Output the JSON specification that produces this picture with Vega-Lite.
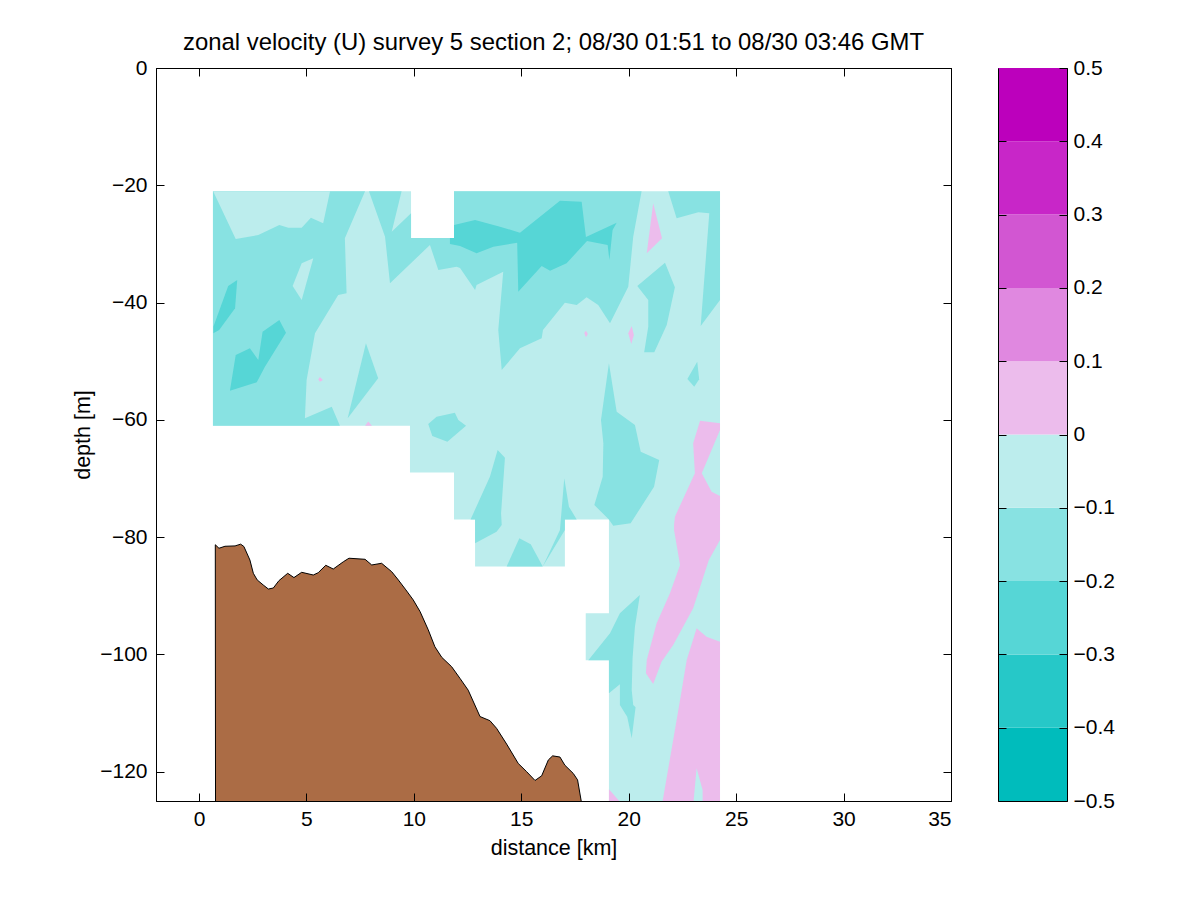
{
  "$schema": "https://vega.github.io/schema/vega-lite/v6.json",
  "padding": {"left": 72, "top": 30, "right": 60, "bottom": 40},
  "background": "white",
  "config": {
    "font": "Liberation Sans",
    "view": {"stroke": "black", "strokeWidth": 1},
    "axis": {"grid": false, "domainColor": "black", "tickColor": "black", "labelColor": "black", "titleColor": "black", "labelFontSize": 21, "titleFontSize": 21.5, "titleFontWeight": "normal", "tickSize": -8, "labelPadding": 15}
  },
  "datasets": {
    "polys": [
      {"poly":"base","band":"-0.1..0","i":0,"km":0.65,"depth":-21},{"poly":"base","band":"-0.1..0","i":1,"km":9.87,"depth":-21},{"poly":"base","band":"-0.1..0","i":2,"km":9.87,"depth":-29},{"poly":"base","band":"-0.1..0","i":3,"km":11.87,"depth":-29},{"poly":"base","band":"-0.1..0","i":4,"km":11.87,"depth":-21},{"poly":"base","band":"-0.1..0","i":5,"km":24.25,"depth":-21},{"poly":"base","band":"-0.1..0","i":6,"km":24.25,"depth":-125},{"poly":"base","band":"-0.1..0","i":7,"km":19.08,"depth":-125},{"poly":"base","band":"-0.1..0","i":8,"km":19.08,"depth":-101},{"poly":"base","band":"-0.1..0","i":9,"km":18.0,"depth":-101},{"poly":"base","band":"-0.1..0","i":10,"km":18.0,"depth":-93},{"poly":"base","band":"-0.1..0","i":11,"km":19.08,"depth":-93},{"poly":"base","band":"-0.1..0","i":12,"km":19.08,"depth":-77},{"poly":"base","band":"-0.1..0","i":13,"km":17.03,"depth":-77},{"poly":"base","band":"-0.1..0","i":14,"km":17.03,"depth":-85},{"poly":"base","band":"-0.1..0","i":15,"km":12.85,"depth":-85},{"poly":"base","band":"-0.1..0","i":16,"km":12.85,"depth":-77},{"poly":"base","band":"-0.1..0","i":17,"km":11.87,"depth":-77},{"poly":"base","band":"-0.1..0","i":18,"km":11.87,"depth":-69},{"poly":"base","band":"-0.1..0","i":19,"km":9.82,"depth":-69},{"poly":"base","band":"-0.1..0","i":20,"km":9.82,"depth":-61},{"poly":"base","band":"-0.1..0","i":21,"km":0.65,"depth":-61},

      {"poly":"A","band":"-0.2..-0.1","i":0,"km":0.65,"depth":-21},{"poly":"A","band":"-0.2..-0.1","i":1,"km":7.73,"depth":-21},{"poly":"A","band":"-0.2..-0.1","i":2,"km":6.79,"depth":-29.04},{"poly":"A","band":"-0.2..-0.1","i":3,"km":6.87,"depth":-38.42},{"poly":"A","band":"-0.2..-0.1","i":4,"km":6.48,"depth":-38.71},{"poly":"A","band":"-0.2..-0.1","i":5,"km":5.40,"depth":-45.24},{"poly":"A","band":"-0.2..-0.1","i":6,"km":5.01,"depth":-53.2},{"poly":"A","band":"-0.2..-0.1","i":7,"km":4.93,"depth":-59.74},{"poly":"A","band":"-0.2..-0.1","i":8,"km":6.18,"depth":-57.76},{"poly":"A","band":"-0.2..-0.1","i":9,"km":6.56,"depth":-61},{"poly":"A","band":"-0.2..-0.1","i":10,"km":0.65,"depth":-61},

      {"poly":"B","band":"-0.2..-0.1","i":0,"km":7.91,"depth":-21},{"poly":"B","band":"-0.2..-0.1","i":1,"km":9.43,"depth":-21},{"poly":"B","band":"-0.2..-0.1","i":2,"km":8.97,"depth":-27.92},{"poly":"B","band":"-0.2..-0.1","i":3,"km":9.87,"depth":-24.78},{"poly":"B","band":"-0.2..-0.1","i":4,"km":9.87,"depth":-29},{"poly":"B","band":"-0.2..-0.1","i":5,"km":11.87,"depth":-29},{"poly":"B","band":"-0.2..-0.1","i":6,"km":11.87,"depth":-21},{"poly":"B","band":"-0.2..-0.1","i":7,"km":20.6,"depth":-21},{"poly":"B","band":"-0.2..-0.1","i":8,"km":20.21,"depth":-28.77},{"poly":"B","band":"-0.2..-0.1","i":9,"km":19.98,"depth":-37.3},{"poly":"B","band":"-0.2..-0.1","i":10,"km":19.13,"depth":-43.54},{"poly":"B","band":"-0.2..-0.1","i":11,"km":18.58,"depth":-40.42},{"poly":"B","band":"-0.2..-0.1","i":12,"km":18.04,"depth":-39.1},{"poly":"B","band":"-0.2..-0.1","i":13,"km":17.58,"depth":-40.42},{"poly":"B","band":"-0.2..-0.1","i":14,"km":17.03,"depth":-40.02},{"poly":"B","band":"-0.2..-0.1","i":15,"km":16.01,"depth":-44.68},{"poly":"B","band":"-0.2..-0.1","i":16,"km":15.95,"depth":-46.09},{"poly":"B","band":"-0.2..-0.1","i":17,"km":14.94,"depth":-47.8},{"poly":"B","band":"-0.2..-0.1","i":18,"km":14.09,"depth":-51.5},{"poly":"B","band":"-0.2..-0.1","i":19,"km":13.93,"depth":-44.68},{"poly":"B","band":"-0.2..-0.1","i":20,"km":14.16,"depth":-34.74},{"poly":"B","band":"-0.2..-0.1","i":21,"km":12.92,"depth":-37.0},{"poly":"B","band":"-0.2..-0.1","i":22,"km":12.85,"depth":-37.86},{"poly":"B","band":"-0.2..-0.1","i":23,"km":12.15,"depth":-34.1},{"poly":"B","band":"-0.2..-0.1","i":24,"km":11.99,"depth":-33.88},{"poly":"B","band":"-0.2..-0.1","i":25,"km":11.14,"depth":-34.45},{"poly":"B","band":"-0.2..-0.1","i":26,"km":10.75,"depth":-30.18},{"poly":"B","band":"-0.2..-0.1","i":27,"km":8.89,"depth":-36.71},{"poly":"B","band":"-0.2..-0.1","i":28,"km":8.66,"depth":-28.77},

      {"poly":"C","band":"-0.2..-0.1","i":0,"km":21.84,"depth":-21},{"poly":"C","band":"-0.2..-0.1","i":1,"km":24.25,"depth":-21},{"poly":"C","band":"-0.2..-0.1","i":2,"km":24.25,"depth":-39.56},{"poly":"C","band":"-0.2..-0.1","i":3,"km":23.35,"depth":-44.0},{"poly":"C","band":"-0.2..-0.1","i":4,"km":23.75,"depth":-24.78},{"poly":"C","band":"-0.2..-0.1","i":5,"km":23.24,"depth":-24.61},{"poly":"C","band":"-0.2..-0.1","i":6,"km":22.23,"depth":-25.63},

      {"poly":"L1","band":"-0.1..0","i":0,"km":0.66,"depth":-21},{"poly":"L1","band":"-0.1..0","i":1,"km":6.10,"depth":-21},{"poly":"L1","band":"-0.1..0","i":2,"km":5.78,"depth":-26.48},{"poly":"L1","band":"-0.1..0","i":3,"km":5.21,"depth":-25.53},{"poly":"L1","band":"-0.1..0","i":4,"km":4.78,"depth":-27.23},{"poly":"L1","band":"-0.1..0","i":5,"km":4.16,"depth":-27.23},{"poly":"L1","band":"-0.1..0","i":6,"km":3.74,"depth":-26.77},{"poly":"L1","band":"-0.1..0","i":7,"km":2.76,"depth":-28.48},{"poly":"L1","band":"-0.1..0","i":8,"km":1.71,"depth":-29.16},

      {"poly":"L2","band":"-0.1..0","i":0,"km":5.32,"depth":-32.45},{"poly":"L2","band":"-0.1..0","i":1,"km":4.78,"depth":-33.3},{"poly":"L2","band":"-0.1..0","i":2,"km":4.36,"depth":-37.18},{"poly":"L2","band":"-0.1..0","i":3,"km":4.78,"depth":-39.56},

      {"poly":"D1","band":"-0.3..-0.2","i":0,"km":1.78,"depth":-36.15},{"poly":"D1","band":"-0.3..-0.2","i":1,"km":1.36,"depth":-37.18},{"poly":"D1","band":"-0.3..-0.2","i":2,"km":0.67,"depth":-44.12},{"poly":"D1","band":"-0.3..-0.2","i":3,"km":0.67,"depth":-45.24},{"poly":"D1","band":"-0.3..-0.2","i":4,"km":0.94,"depth":-44.68},{"poly":"D1","band":"-0.3..-0.2","i":5,"km":1.68,"depth":-40.98},

      {"poly":"D2","band":"-0.3..-0.2","i":0,"km":3.74,"depth":-42.97},{"poly":"D2","band":"-0.3..-0.2","i":1,"km":2.96,"depth":-44.97},{"poly":"D2","band":"-0.3..-0.2","i":2,"km":2.76,"depth":-49.79},{"poly":"D2","band":"-0.3..-0.2","i":3,"km":2.37,"depth":-47.8},{"poly":"D2","band":"-0.3..-0.2","i":4,"km":1.71,"depth":-48.94},{"poly":"D2","band":"-0.3..-0.2","i":5,"km":1.44,"depth":-55.03},{"poly":"D2","band":"-0.3..-0.2","i":6,"km":2.69,"depth":-53.6},{"poly":"D2","band":"-0.3..-0.2","i":7,"km":3.07,"depth":-50.94},{"poly":"D2","band":"-0.3..-0.2","i":8,"km":4.05,"depth":-45.14},

      {"poly":"T2","band":"-0.2..-0.1","i":0,"km":7.77,"depth":-46.95},{"poly":"T2","band":"-0.2..-0.1","i":1,"km":8.34,"depth":-52.92},{"poly":"T2","band":"-0.2..-0.1","i":2,"km":6.92,"depth":-59.74},

      {"poly":"T3","band":"-0.2..-0.1","i":0,"km":11.91,"depth":-58.78},{"poly":"T3","band":"-0.2..-0.1","i":1,"km":12.07,"depth":-60.03},{"poly":"T3","band":"-0.2..-0.1","i":2,"km":12.43,"depth":-61.0},{"poly":"T3","band":"-0.2..-0.1","i":3,"km":11.56,"depth":-63.73},{"poly":"T3","band":"-0.2..-0.1","i":4,"km":10.86,"depth":-62.76},{"poly":"T3","band":"-0.2..-0.1","i":5,"km":10.67,"depth":-60.71},{"poly":"T3","band":"-0.2..-0.1","i":6,"km":11.06,"depth":-59.46},

      {"poly":"Dk","band":"-0.3..-0.2","i":0,"km":11.87,"depth":-26.77},{"poly":"Dk","band":"-0.3..-0.2","i":1,"km":12.85,"depth":-25.92},{"poly":"Dk","band":"-0.3..-0.2","i":2,"km":14.01,"depth":-27.06},{"poly":"Dk","band":"-0.3..-0.2","i":3,"km":14.94,"depth":-28.09},{"poly":"Dk","band":"-0.3..-0.2","i":4,"km":16.80,"depth":-22.63},{"poly":"Dk","band":"-0.3..-0.2","i":5,"km":17.81,"depth":-22.8},{"poly":"Dk","band":"-0.3..-0.2","i":6,"km":18.01,"depth":-28.82},{"poly":"Dk","band":"-0.3..-0.2","i":7,"km":19.44,"depth":-26.38},{"poly":"Dk","band":"-0.3..-0.2","i":8,"km":19.25,"depth":-27.63},{"poly":"Dk","band":"-0.3..-0.2","i":9,"km":19.10,"depth":-32.74},{"poly":"Dk","band":"-0.3..-0.2","i":10,"km":19.02,"depth":-30.18},{"poly":"Dk","band":"-0.3..-0.2","i":11,"km":18.06,"depth":-29.5},{"poly":"Dk","band":"-0.3..-0.2","i":12,"km":17.11,"depth":-33.3},{"poly":"Dk","band":"-0.3..-0.2","i":13,"km":16.34,"depth":-34.57},{"poly":"Dk","band":"-0.3..-0.2","i":14,"km":15.95,"depth":-33.77},{"poly":"Dk","band":"-0.3..-0.2","i":15,"km":14.86,"depth":-38.15},{"poly":"Dk","band":"-0.3..-0.2","i":16,"km":14.81,"depth":-29.79},{"poly":"Dk","band":"-0.3..-0.2","i":17,"km":13.70,"depth":-30.47},{"poly":"Dk","band":"-0.3..-0.2","i":18,"km":12.92,"depth":-31.6},{"poly":"Dk","band":"-0.3..-0.2","i":19,"km":12.15,"depth":-30.35},{"poly":"Dk","band":"-0.3..-0.2","i":20,"km":11.68,"depth":-30.01},{"poly":"Dk","band":"-0.3..-0.2","i":21,"km":11.68,"depth":-29},{"poly":"Dk","band":"-0.3..-0.2","i":22,"km":11.87,"depth":-29},

      {"poly":"Pa","band":"0..0.1","i":0,"km":21.14,"depth":-23.07},{"poly":"Pa","band":"0..0.1","i":1,"km":21.55,"depth":-29.04},{"poly":"Pa","band":"0..0.1","i":2,"km":20.84,"depth":-31.6},

      {"poly":"Pb","band":"0..0.1","i":0,"km":18.01,"depth":-44.8},{"poly":"Pb","band":"0..0.1","i":1,"km":18.1,"depth":-45.36},{"poly":"Pb","band":"0..0.1","i":2,"km":18.01,"depth":-45.92},{"poly":"Pb","band":"0..0.1","i":3,"km":17.93,"depth":-45.19},

      {"poly":"Pc","band":"0..0.1","i":0,"km":20.14,"depth":-44.0},{"poly":"Pc","band":"0..0.1","i":1,"km":20.24,"depth":-45.53},{"poly":"Pc","band":"0..0.1","i":2,"km":20.12,"depth":-47.07},{"poly":"Pc","band":"0..0.1","i":3,"km":19.98,"depth":-45.24},

      {"poly":"Pd","band":"0..0.1","i":0,"km":7.73,"depth":-61},{"poly":"Pd","band":"0..0.1","i":1,"km":7.88,"depth":-60.28},{"poly":"Pd","band":"0..0.1","i":2,"km":8.05,"depth":-61},

      {"poly":"Pe","band":"0..0.1","i":0,"km":5.63,"depth":-52.7},{"poly":"Pe","band":"0..0.1","i":1,"km":5.77,"depth":-53.2},{"poly":"Pe","band":"0..0.1","i":2,"km":5.63,"depth":-53.5},{"poly":"Pe","band":"0..0.1","i":3,"km":5.55,"depth":-53.1},

      {"poly":"T4","band":"-0.2..-0.1","i":0,"km":21.69,"depth":-33.2},{"poly":"T4","band":"-0.2..-0.1","i":1,"km":22.15,"depth":-37.4},{"poly":"T4","band":"-0.2..-0.1","i":2,"km":21.77,"depth":-43.83},{"poly":"T4","band":"-0.2..-0.1","i":3,"km":21.19,"depth":-48.48},{"poly":"T4","band":"-0.2..-0.1","i":4,"km":20.72,"depth":-48.48},{"poly":"T4","band":"-0.2..-0.1","i":5,"km":20.91,"depth":-44.12},{"poly":"T4","band":"-0.2..-0.1","i":6,"km":20.91,"depth":-39.56},{"poly":"T4","band":"-0.2..-0.1","i":7,"km":20.40,"depth":-37.18},

      {"poly":"T5","band":"-0.2..-0.1","i":0,"km":23.19,"depth":-50.08},{"poly":"T5","band":"-0.2..-0.1","i":1,"km":23.28,"depth":-53.09},{"poly":"T5","band":"-0.2..-0.1","i":2,"km":23.05,"depth":-54.35},{"poly":"T5","band":"-0.2..-0.1","i":3,"km":22.73,"depth":-53.03},

      {"poly":"T6","band":"-0.2..-0.1","i":0,"km":19.08,"depth":-50.36},{"poly":"T6","band":"-0.2..-0.1","i":1,"km":19.44,"depth":-58.61},{"poly":"T6","band":"-0.2..-0.1","i":2,"km":20.29,"depth":-60.88},{"poly":"T6","band":"-0.2..-0.1","i":3,"km":20.56,"depth":-65.43},{"poly":"T6","band":"-0.2..-0.1","i":4,"km":21.42,"depth":-66.85},{"poly":"T6","band":"-0.2..-0.1","i":5,"km":21.18,"depth":-71.4},{"poly":"T6","band":"-0.2..-0.1","i":6,"km":20.09,"depth":-77.64},{"poly":"T6","band":"-0.2..-0.1","i":7,"km":19.28,"depth":-78.05},{"poly":"T6","band":"-0.2..-0.1","i":8,"km":19.08,"depth":-77},{"poly":"T6","band":"-0.2..-0.1","i":9,"km":18.4,"depth":-74.52},{"poly":"T6","band":"-0.2..-0.1","i":10,"km":18.79,"depth":-69.7},{"poly":"T6","band":"-0.2..-0.1","i":11,"km":18.82,"depth":-64.0},{"poly":"T6","band":"-0.2..-0.1","i":12,"km":18.71,"depth":-60.03},

      {"poly":"T7","band":"-0.2..-0.1","i":0,"km":13.9,"depth":-65.14},{"poly":"T7","band":"-0.2..-0.1","i":1,"km":14.24,"depth":-66.46},{"poly":"T7","band":"-0.2..-0.1","i":2,"km":14.06,"depth":-75.94},{"poly":"T7","band":"-0.2..-0.1","i":3,"km":14.09,"depth":-77.93},{"poly":"T7","band":"-0.2..-0.1","i":4,"km":13.85,"depth":-79.08},{"poly":"T7","band":"-0.2..-0.1","i":5,"km":12.85,"depth":-81.05},{"poly":"T7","band":"-0.2..-0.1","i":6,"km":12.85,"depth":-77},{"poly":"T7","band":"-0.2..-0.1","i":7,"km":12.64,"depth":-77},{"poly":"T7","band":"-0.2..-0.1","i":8,"km":13.54,"depth":-69.7},

      {"poly":"T8","band":"-0.2..-0.1","i":0,"km":14.91,"depth":-80.2},{"poly":"T8","band":"-0.2..-0.1","i":1,"km":15.44,"depth":-81.22},{"poly":"T8","band":"-0.2..-0.1","i":2,"km":16.0,"depth":-85},{"poly":"T8","band":"-0.2..-0.1","i":3,"km":14.32,"depth":-85},

      {"poly":"T9","band":"-0.2..-0.1","i":0,"km":17.0,"depth":-69.97},{"poly":"T9","band":"-0.2..-0.1","i":1,"km":17.22,"depth":-74.81},{"poly":"T9","band":"-0.2..-0.1","i":2,"km":17.58,"depth":-77},{"poly":"T9","band":"-0.2..-0.1","i":3,"km":17.03,"depth":-77},{"poly":"T9","band":"-0.2..-0.1","i":4,"km":17.03,"depth":-78.8},{"poly":"T9","band":"-0.2..-0.1","i":5,"km":16.0,"depth":-85},{"poly":"T9","band":"-0.2..-0.1","i":6,"km":16.80,"depth":-78.8},

      {"poly":"T10","band":"-0.2..-0.1","i":0,"km":20.52,"depth":-89.87},{"poly":"T10","band":"-0.2..-0.1","i":1,"km":20.29,"depth":-95.27},{"poly":"T10","band":"-0.2..-0.1","i":2,"km":20.18,"depth":-100.66},{"poly":"T10","band":"-0.2..-0.1","i":3,"km":20.14,"depth":-106.07},{"poly":"T10","band":"-0.2..-0.1","i":4,"km":20.21,"depth":-108.63},{"poly":"T10","band":"-0.2..-0.1","i":5,"km":20.32,"depth":-109.02},{"poly":"T10","band":"-0.2..-0.1","i":6,"km":20.14,"depth":-114.31},{"poly":"T10","band":"-0.2..-0.1","i":7,"km":19.93,"depth":-110.62},{"poly":"T10","band":"-0.2..-0.1","i":8,"km":19.59,"depth":-108.63},{"poly":"T10","band":"-0.2..-0.1","i":9,"km":19.59,"depth":-105.1},{"poly":"T10","band":"-0.2..-0.1","i":10,"km":19.08,"depth":-106.63},{"poly":"T10","band":"-0.2..-0.1","i":11,"km":19.08,"depth":-101},{"poly":"T10","band":"-0.2..-0.1","i":12,"km":18.12,"depth":-101},{"poly":"T10","band":"-0.2..-0.1","i":13,"km":19.13,"depth":-96.4},{"poly":"T10","band":"-0.2..-0.1","i":14,"km":19.59,"depth":-93.0},

      {"poly":"P1","band":"0..0.1","i":0,"km":23.32,"depth":-60.15},{"poly":"P1","band":"0..0.1","i":1,"km":24.25,"depth":-60.59},{"poly":"P1","band":"0..0.1","i":2,"km":24.25,"depth":-61.73},{"poly":"P1","band":"0..0.1","i":3,"km":23.4,"depth":-69.12},{"poly":"P1","band":"0..0.1","i":4,"km":23.86,"depth":-72.25},{"poly":"P1","band":"0..0.1","i":5,"km":24.25,"depth":-72.99},{"poly":"P1","band":"0..0.1","i":6,"km":24.25,"depth":-80.49},{"poly":"P1","band":"0..0.1","i":7,"km":23.73,"depth":-83.9},{"poly":"P1","band":"0..0.1","i":8,"km":23.0,"depth":-92.14},{"poly":"P1","band":"0..0.1","i":9,"km":22.07,"depth":-98.4},{"poly":"P1","band":"0..0.1","i":10,"km":21.53,"depth":-101.24},{"poly":"P1","band":"0..0.1","i":11,"km":21.14,"depth":-105.05},{"poly":"P1","band":"0..0.1","i":12,"km":20.8,"depth":-103.22},{"poly":"P1","band":"0..0.1","i":13,"km":20.84,"depth":-100.95},{"poly":"P1","band":"0..0.1","i":14,"km":21.3,"depth":-94.7},{"poly":"P1","band":"0..0.1","i":15,"km":21.92,"depth":-89.58},{"poly":"P1","band":"0..0.1","i":16,"km":22.39,"depth":-84.75},{"poly":"P1","band":"0..0.1","i":17,"km":22.11,"depth":-78.79},{"poly":"P1","band":"0..0.1","i":18,"km":22.11,"depth":-77.93},{"poly":"P1","band":"0..0.1","i":19,"km":22.15,"depth":-76.52},{"poly":"P1","band":"0..0.1","i":20,"km":23.08,"depth":-69.12},{"poly":"P1","band":"0..0.1","i":21,"km":23.0,"depth":-64.0},

      {"poly":"P2","band":"0..0.1","i":0,"km":23.16,"depth":-95.55},{"poly":"P2","band":"0..0.1","i":1,"km":23.62,"depth":-96.98},{"poly":"P2","band":"0..0.1","i":2,"km":24.25,"depth":-97.83},{"poly":"P2","band":"0..0.1","i":3,"km":24.25,"depth":-125},{"poly":"P2","band":"0..0.1","i":4,"km":23.44,"depth":-125},{"poly":"P2","band":"0..0.1","i":5,"km":23.44,"depth":-123.12},{"poly":"P2","band":"0..0.1","i":6,"km":23.16,"depth":-119.42},{"poly":"P2","band":"0..0.1","i":7,"km":23.02,"depth":-125},{"poly":"P2","band":"0..0.1","i":8,"km":21.58,"depth":-125},{"poly":"P2","band":"0..0.1","i":9,"km":22.15,"depth":-112.89},{"poly":"P2","band":"0..0.1","i":10,"km":22.39,"depth":-107.78},{"poly":"P2","band":"0..0.1","i":11,"km":22.7,"depth":-100.95},

      {"poly":"P3","band":"0..0.1","i":0,"km":19.08,"depth":-123.0},{"poly":"P3","band":"0..0.1","i":1,"km":19.56,"depth":-125},{"poly":"P3","band":"0..0.1","i":2,"km":19.08,"depth":-125}
    ],
    "bathy": [
      {"i":0,"km":0.77,"depth":-125},{"i":1,"km":0.76,"depth":-81.3},{"i":2,"km":0.93,"depth":-81.9},{"i":3,"km":1.21,"depth":-81.56},{"i":4,"km":1.68,"depth":-81.5},{"i":5,"km":1.94,"depth":-81.2},{"i":6,"km":2.09,"depth":-81.6},{"i":7,"km":2.37,"depth":-83.9},{"i":8,"km":2.53,"depth":-86.17},{"i":9,"km":2.71,"depth":-87.3},{"i":10,"km":2.99,"depth":-88.16},{"i":11,"km":3.23,"depth":-88.85},{"i":12,"km":3.46,"depth":-88.68},{"i":13,"km":3.72,"depth":-87.43},{"i":14,"km":4.13,"depth":-86.17},{"i":15,"km":4.42,"depth":-86.9},{"i":16,"km":4.78,"depth":-86.0},{"i":17,"km":5.32,"depth":-86.46},{"i":18,"km":5.55,"depth":-86.07},{"i":19,"km":5.90,"depth":-84.8},{"i":20,"km":6.25,"depth":-85.44},{"i":21,"km":6.72,"depth":-84.2},{"i":22,"km":6.98,"depth":-83.6},{"i":23,"km":7.73,"depth":-83.78},{"i":24,"km":8.04,"depth":-84.75},{"i":25,"km":8.50,"depth":-84.46},{"i":26,"km":8.97,"depth":-85.9},{"i":27,"km":9.28,"depth":-87.31},{"i":28,"km":9.63,"depth":-89.0},{"i":29,"km":9.97,"depth":-90.7},{"i":30,"km":10.29,"depth":-92.7},{"i":31,"km":10.67,"depth":-95.8},{"i":32,"km":10.98,"depth":-98.7},{"i":33,"km":11.30,"depth":-100.5},{"i":34,"km":11.76,"depth":-102.1},{"i":35,"km":12.15,"depth":-104.1},{"i":36,"km":12.53,"depth":-106.1},{"i":37,"km":13.08,"depth":-110.6},{"i":38,"km":13.54,"depth":-111.3},{"i":39,"km":13.85,"depth":-112.6},{"i":40,"km":14.32,"depth":-115.3},{"i":41,"km":14.86,"depth":-118.6},{"i":42,"km":15.25,"depth":-120.0},{"i":43,"km":15.64,"depth":-121.5},{"i":44,"km":15.95,"depth":-120.7},{"i":45,"km":16.26,"depth":-118.0},{"i":46,"km":16.46,"depth":-117.3},{"i":47,"km":16.80,"depth":-117.5},{"i":48,"km":17.03,"depth":-118.9},{"i":49,"km":17.42,"depth":-120.3},{"i":50,"km":17.62,"depth":-121.4},{"i":51,"km":17.79,"depth":-125}
    ],
    "bands": [
      {"band":"-0.5..-0.4","lo":-0.5,"hi":-0.4,"a":0,"b":1},{"band":"-0.4..-0.3","lo":-0.4,"hi":-0.3,"a":0,"b":1},{"band":"-0.3..-0.2","lo":-0.3,"hi":-0.2,"a":0,"b":1},{"band":"-0.2..-0.1","lo":-0.2,"hi":-0.1,"a":0,"b":1},{"band":"-0.1..0","lo":-0.1,"hi":0,"a":0,"b":1},{"band":"0..0.1","lo":0,"hi":0.1,"a":0,"b":1},{"band":"0.1..0.2","lo":0.1,"hi":0.2,"a":0,"b":1},{"band":"0.2..0.3","lo":0.2,"hi":0.3,"a":0,"b":1},{"band":"0.3..0.4","lo":0.3,"hi":0.4,"a":0,"b":1},{"band":"0.4..0.5","lo":0.4,"hi":0.5,"a":0,"b":1}
    ]
  },
  "hconcat": [
    {
      "width": 795,
      "height": 733,
      "title": {"text": "zonal velocity (U) survey 5 section 2; 08/30 01:51 to 08/30 03:46 GMT", "fontSize": 23.9, "fontWeight": "normal", "color": "black", "offset": 2},
      "resolve": {"axis": {"x": "independent", "y": "independent"}},
      "layer": [
        {
          "data": {"name": "polys"},
          "mark": {"type": "line", "filled": true, "strokeWidth": 0, "clip": true},
          "encoding": {
            "x": {"field": "km", "type": "quantitative", "scale": {"domain": [-2, 35], "nice": false}, "axis": {"values": [0, 5, 10, 15, 20, 25, 30, 35], "title": "distance [km]", "titlePadding": 8, "zindex": 1}},
            "y": {"field": "depth", "type": "quantitative", "scale": {"domain": [-125, 0], "nice": false}, "axis": {"values": [0, -20, -40, -60, -80, -100, -120], "title": "depth [m]", "labelPadding": 17, "titlePadding": 5, "zindex": 1}},
            "detail": {"field": "poly"},
            "order": {"field": "i"},
            "fill": {"field": "band", "type": "nominal", "legend": null, "scale": {
              "domain": ["-0.5..-0.4", "-0.4..-0.3", "-0.3..-0.2", "-0.2..-0.1", "-0.1..0", "0..0.1", "0.1..0.2", "0.2..0.3", "0.3..0.4", "0.4..0.5"],
              "range": ["#00BCBC", "#26C8C8", "#56D6D6", "#88E2E2", "#BCEDED", "#ECBCEC", "#E088E0", "#D256D2", "#C826C8", "#BC00BC"]}}
          }
        },
        {
          "data": {"name": "bathy"},
          "mark": {"type": "line", "fill": "#AB6C45", "stroke": "black", "strokeWidth": 1, "clip": true},
          "encoding": {
            "x": {"field": "km", "type": "quantitative", "scale": {"domain": [-2, 35], "nice": false}, "axis": {"orient": "top", "values": [0, 5, 10, 15, 20, 25, 30, 35], "labels": false, "title": null, "zindex": 1}},
            "y": {"field": "depth", "type": "quantitative", "scale": {"domain": [-125, 0], "nice": false}, "axis": {"orient": "right", "values": [0, -20, -40, -60, -80, -100, -120], "labels": false, "title": null, "zindex": 1}},
            "order": {"field": "i"}
          }
        }
      ]
    },
    {
      "width": 69,
      "height": 733,
      "data": {"name": "bands"},
      "resolve": {"axis": {"y": "independent"}},
      "layer": [
        {
          "mark": {"type": "rect"},
          "encoding": {
            "x": {"field": "a", "type": "quantitative", "scale": {"domain": [0, 1], "nice": false}, "axis": null},
            "x2": {"field": "b"},
            "y": {"field": "lo", "type": "quantitative", "scale": {"domain": [-0.5, 0.5], "nice": false}, "axis": {"orient": "left", "values": [-0.4, -0.3, -0.2, -0.1, 0, 0.1, 0.2, 0.3, 0.4], "labels": false, "title": null, "zindex": 1}},
            "y2": {"field": "hi"},
            "fill": {"field": "band", "type": "nominal", "legend": null, "scale": {
              "domain": ["-0.5..-0.4", "-0.4..-0.3", "-0.3..-0.2", "-0.2..-0.1", "-0.1..0", "0..0.1", "0.1..0.2", "0.2..0.3", "0.3..0.4", "0.4..0.5"],
              "range": ["#00BCBC", "#26C8C8", "#56D6D6", "#88E2E2", "#BCEDED", "#ECBCEC", "#E088E0", "#D256D2", "#C826C8", "#BC00BC"]}}
          }
        },
        {
          "mark": {"type": "rect", "fillOpacity": 0},
          "encoding": {
            "x": {"field": "a", "type": "quantitative", "scale": {"domain": [0, 1], "nice": false}, "axis": null},
            "x2": {"field": "b"},
            "y": {"field": "lo", "type": "quantitative", "scale": {"domain": [-0.5, 0.5], "nice": false}, "axis": {"orient": "right", "values": [-0.5, -0.4, -0.3, -0.2, -0.1, 0, 0.1, 0.2, 0.3, 0.4, 0.5], "format": "~g", "labelPadding": 14, "title": null, "zindex": 1}},
            "y2": {"field": "hi"}
          }
        }
      ]
    }
  ],
  "spacing": 45
}
